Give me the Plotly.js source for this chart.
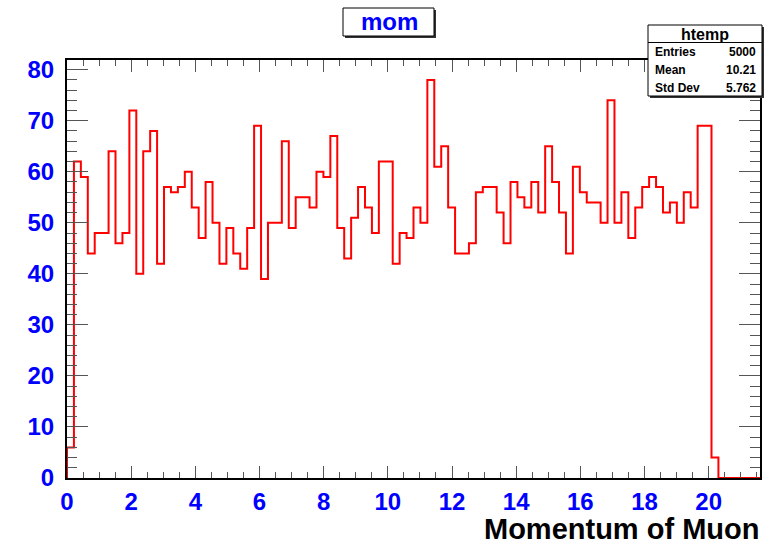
<!DOCTYPE html>
<html>
<head>
<meta charset="utf-8">
<script src="https://cdn.plot.ly/plotly-3.0.1.min.js"></script>
<style>
  html, body { margin: 0; padding: 0; background: #ffffff; }
  #chart { width: 769px; height: 547px; }
</style>
</head>
<body>
<div id="chart"></div>
<script>
// ---- data ----
const histName = "htemp";
const titleText = "mom";
const xTitle = "Momentum of Muon";
const xMin = 0;
const xMax = 21.6;
const nBins = 100;
const binCounts = [
  6, 62, 59, 44, 48, 48, 64, 46, 48, 72,
  40, 64, 68, 42, 57, 56, 57, 60, 53, 47,
  58, 50, 42, 49, 44, 41, 49, 69, 39, 50,
  50, 66, 49, 55, 55, 53, 60, 59, 67, 49,
  43, 51, 57, 53, 48, 62, 62, 42, 48, 47,
  53, 50, 78, 61, 65, 53, 44, 44, 46, 56,
  57, 57, 52, 46, 58, 55, 53, 58, 52, 65,
  58, 52, 44, 61, 56, 54, 54, 50, 74, 50,
  56, 47, 53, 57, 59, 57, 52, 54, 50, 56,
  53, 69, 69, 4, 0, 0, 0, 0, 0, 0
];
const statLabels = ["Entries", "Mean", "Std Dev"];
const statValues = ["5000", "10.21", "5.762"];
const yMax = 81.9;

// ---- build step outline from the bins ----
const binWidth = (xMax - xMin) / nBins;
const xs = [xMin];
const ys = [0];
for (let i = 0; i < binCounts.length; i++) {
  xs.push(xMin + i * binWidth);
  ys.push(binCounts[i]);
}
xs.push(xMin + binCounts.length * binWidth);
ys.push(binCounts[binCounts.length - 1]);

const trace = {
  type: 'scatter',
  mode: 'lines',
  x: xs,
  y: ys,
  line: { shape: 'hv', color: '#ff0000', width: 2 },
  hoverinfo: 'skip',
  cliponaxis: true
};

// ---- layout geometry helpers (pixels -> paper) ----
const W = 769, H = 547;
const mL = 67, mR = 9, mT = 60, mB = 69;
const pw = W - mL - mR, ph = H - mT - mB;
const px = x => (x - mL) / pw;
const py = y => (H - mB - y) / ph;

const FONT = '"Liberation Sans", Arial, Helvetica, sans-serif';

const shapes = [
  // title box shadow
  { type: 'rect', xref: 'paper', yref: 'paper', x0: px(345), x1: px(436), y0: py(38), y1: py(10),
    fillcolor: '#333333', line: { width: 0 }, layer: 'above' },
  // title box
  { type: 'rect', xref: 'paper', yref: 'paper', x0: px(343), x1: px(434), y0: py(36), y1: py(8),
    fillcolor: '#ffffff', line: { color: '#000000', width: 1 }, layer: 'above' },
  // stats box shadow
  { type: 'rect', xref: 'paper', yref: 'paper', x0: px(650), x1: px(764), y0: py(98), y1: py(27),
    fillcolor: '#333333', line: { width: 0 }, layer: 'above' },
  // stats box
  { type: 'rect', xref: 'paper', yref: 'paper', x0: px(648), x1: px(762), y0: py(96), y1: py(25),
    fillcolor: '#ffffff', line: { color: '#000000', width: 1 }, layer: 'above' },
  // stats header separator
  { type: 'line', xref: 'paper', yref: 'paper', x0: px(648), x1: px(762), y0: py(42.5), y1: py(42.5),
    line: { color: '#000000', width: 1 }, layer: 'above' }
];

const annotations = [
  { text: '<b>' + titleText + '</b>', xref: 'paper', yref: 'paper', x: px(389), y: py(21),
    xanchor: 'center', yanchor: 'middle', showarrow: false,
    font: { family: FONT, size: 24, color: '#0000ff' } },
  { text: '<b>' + histName + '</b>', xref: 'paper', yref: 'paper', x: px(705), y: py(34),
    xanchor: 'center', yanchor: 'middle', showarrow: false,
    font: { family: FONT, size: 16, color: '#000000' } },
  { text: '<b>' + xTitle + '</b>', xref: 'paper', yref: 'paper', x: px(760), y: py(546),
    xanchor: 'right', yanchor: 'bottom', showarrow: false, borderpad: 0,
    font: { family: FONT, size: 29, color: '#000000' } }
];
const rowY = [52, 70, 88];
for (let i = 0; i < statLabels.length; i++) {
  annotations.push({ text: '<b>' + statLabels[i] + '</b>', xref: 'paper', yref: 'paper',
    x: px(653), y: py(rowY[i]), xanchor: 'left', yanchor: 'middle', showarrow: false,
    font: { family: FONT, size: 12, color: '#000000' } });
  annotations.push({ text: '<b>' + statValues[i] + '</b>', xref: 'paper', yref: 'paper',
    x: px(758), y: py(rowY[i]), xanchor: 'right', yanchor: 'middle', showarrow: false,
    font: { family: FONT, size: 12, color: '#000000' } });
}

const axisCommon = {
  showgrid: false,
  zeroline: false,
  showline: true,
  linecolor: '#000000',
  linewidth: 2,
  mirror: 'ticks',
  ticks: 'inside',
  tickcolor: '#555555',
  tickwidth: 1,
  tickfont: { family: FONT, size: 24, color: '#0000ff', weight: 'bold' }
};

const layout = {
  width: W,
  height: H,
  margin: { l: mL, r: mR, t: mT, b: mB, pad: 0 },
  paper_bgcolor: '#ffffff',
  plot_bgcolor: '#ffffff',
  showlegend: false,
  xaxis: Object.assign({}, axisCommon, {
    range: [xMin, xMax],
    tickmode: 'linear', tick0: 0, dtick: 2,
    ticklen: 12,
    ticklabelstandoff: 1,
    minor: { dtick: 0.5, ticks: 'inside', ticklen: 6, tickcolor: '#555555', tickwidth: 1 }
  }),
  yaxis: Object.assign({}, axisCommon, {
    range: [0, yMax],
    tickmode: 'linear', tick0: 0, dtick: 10,
    ticklen: 21,
    ticklabelstandoff: 6,
    minor: { dtick: 2, ticks: 'inside', ticklen: 10, tickcolor: '#555555', tickwidth: 1 }
  }),
  shapes: shapes,
  annotations: annotations
};

Plotly.newPlot('chart', [trace], layout, { staticPlot: true, displayModeBar: false });
</script>
</body>
</html>
